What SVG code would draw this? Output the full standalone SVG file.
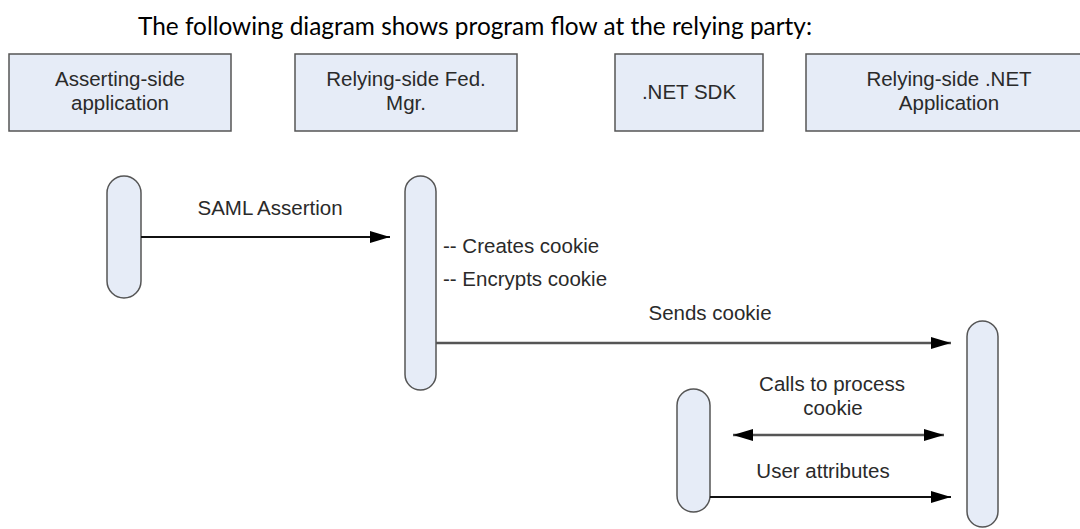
<svg xmlns="http://www.w3.org/2000/svg" width="1080" height="529" viewBox="0 0 1080 529">
<style>
.box{fill:#e6ecf7;stroke:#555;stroke-width:1.5}
.act{fill:#e6ecf7;stroke:#555;stroke-width:1.5}
.lbl{font-family:"Liberation Sans",Arial,sans-serif;font-size:20.5px;fill:#2a2a2a}
.mid{text-anchor:middle}
.ln{stroke:#111;stroke-width:1.8;fill:none}
.ln2{stroke:#555;stroke-width:2.5;fill:none}
</style>
<defs>
<marker id="ah" markerUnits="userSpaceOnUse" markerWidth="22" markerHeight="16" refX="21" refY="8" orient="auto-start-reverse" viewBox="0 0 22 16">
<path d="M1,2 L21,8 L1,14 Z" fill="#000"/>
</marker>
</defs>
<rect width="1080" height="529" fill="#fff"/>
<text x="138" y="35" font-family="Lato,'Open Sans',sans-serif" font-size="25" fill="#000" textLength="674" lengthAdjust="spacingAndGlyphs">The following diagram shows program flow at the relying party:</text>

<g id="box-asserting">
<rect class="box" x="9" y="54" width="222" height="77"/>
<text class="lbl mid" x="120" y="86">Asserting-side</text>
<text class="lbl mid" x="120" y="110">application</text>
</g>
<g id="box-fedmgr">
<rect class="box" x="295" y="54" width="222" height="77"/>
<text class="lbl mid" x="406" y="86">Relying-side Fed.</text>
<text class="lbl mid" x="406" y="110">Mgr.</text>
</g>
<g id="box-sdk">
<rect class="box" x="615" y="54" width="148" height="77"/>
<text class="lbl mid" x="689" y="99">.NET SDK</text>
</g>
<g id="box-netapp">
<rect class="box" x="806" y="54" width="286" height="77"/>
<text class="lbl mid" x="949" y="86">Relying-side .NET</text>
<text class="lbl mid" x="949" y="110">Application</text>
</g>

<g id="act-asserting">
<rect class="act" x="107" y="176" width="34" height="122" rx="17"/>
</g>
<g id="act-fedmgr">
<rect class="act" x="405" y="176" width="31" height="214" rx="15.5"/>
<text class="lbl" x="443" y="253">-- Creates cookie</text>
<text class="lbl" x="443" y="286">-- Encrypts cookie</text>
</g>
<g id="act-sdk">
<rect class="act" x="677" y="389" width="33" height="123" rx="16.5"/>
</g>
<g id="act-netapp">
<rect class="act" x="967" y="321" width="31" height="206" rx="15.5"/>
</g>

<g id="connectors">
<line class="ln" x1="141" y1="237" x2="390" y2="237" marker-end="url(#ah)"/>
<text class="lbl mid" x="270" y="215">SAML Assertion</text>
<line class="ln2" x1="436" y1="343" x2="951" y2="343" marker-end="url(#ah)"/>
<text class="lbl mid" x="710" y="320">Sends cookie</text>
<line class="ln2" x1="733" y1="435" x2="944" y2="435" marker-start="url(#ah)" marker-end="url(#ah)"/>
<text class="lbl mid" x="832" y="391">Calls to process</text>
<text class="lbl mid" x="833" y="415">cookie</text>
<line class="ln" x1="710" y1="497" x2="951" y2="497" marker-end="url(#ah)"/>
<text class="lbl mid" x="823" y="478">User attributes</text>
</g>
</svg>
